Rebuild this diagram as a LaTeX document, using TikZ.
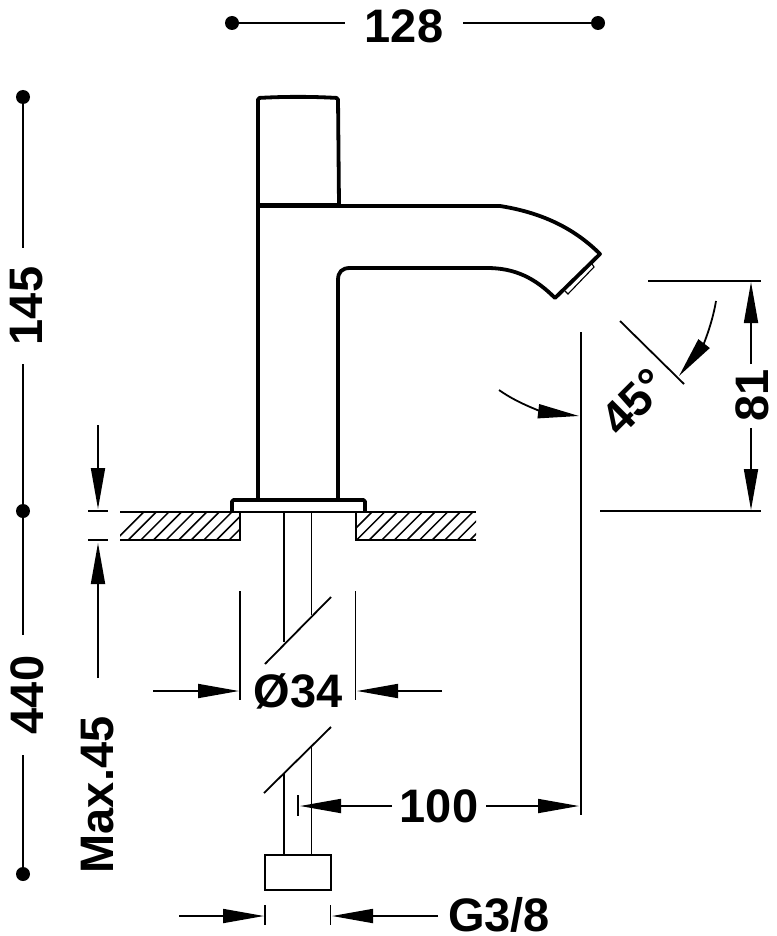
\documentclass[tikz,border=0pt]{standalone}
\usepackage{fontspec}
\setmainfont{Liberation Sans}
\usetikzlibrary{arrows.meta}
\tikzset{
  thinline/.style={line width=1.8pt},
  bodyline/.style={line width=3.8pt,line join=round},
  headtip/.style={-{Triangle[length=41pt,width=14pt]}},
  dimtext/.style={font=\fontsize{47}{47}\selectfont\bfseries,inner sep=0pt},
  dimdot/.style={circle,fill=black,inner sep=0pt,minimum size=14pt},
}
\begin{document}
\begin{tikzpicture}[x=1pt,y=-1pt]

        \useasboundingbox (0,0) rectangle (776,936);

        % tap body
        \draw[bodyline,rounded corners=1.5pt] (258,500) -- (258,98) .. controls (285,96.5) and (311,96.5) .. (338,98) -- (339,205);
        \draw[bodyline,line width=5pt] (258,205) -- (339,205);
        \draw[bodyline] (339,206) -- (500,206) .. controls (538,212) and (572,226) .. (600,254)
          -- (555,298) .. controls (535,278) and (515,268) .. (487,268)
          -- (350,268) .. controls (342,268) and (338,272) .. (338,280) -- (338,500);
        \draw[line width=1.1pt] (592,264) -- (594,267) -- (568,294) -- (565,291);

        % base plate and wall
        \draw[bodyline,rounded corners=1.5pt] (232,512) -- (232,500) -- (365,500) -- (365,512);
        \draw[thinline,line width=2.4pt] (120,512) -- (476,512);
        \draw[thinline] (120,540) -- (240,540) -- (240,512);
        \draw[thinline] (476,540) -- (356,540) -- (356,512);

        % hatching
        \begin{scope}
          \clip (120,512) rectangle (240,540);
          \foreach \x in {0,...,10}
            \draw[line width=1.5pt] (103.2+12.6*\x,552.5) -- (153.2+12.6*\x,502.5);
        \end{scope}
        \begin{scope}
          \clip (356,512) rectangle (476,540);
          \foreach \x in {0,...,10}
            \draw[line width=1.5pt] (331.5+12.6*\x,552.5) -- (381.5+12.6*\x,502.5);
        \end{scope}

        % pipes and connection nut
        \draw[thinline] (284,512) -- (284,642);
        \draw[thinline] (311.5,512) -- (311.5,615);
        \draw[thinline] (284,773) -- (284,855);
        \draw[thinline] (311.5,747) -- (311.5,855);
        \draw[thinline] (265,664) -- (331,597);
        \draw[thinline] (264,793) -- (331,727);
        \node[draw,thinline,inner sep=0pt,minimum width=66pt,minimum height=35pt] (nut) at (298,872.5) {};

        \begin{scope}[every node/.style={dimdot}]
          \node (topa)    at (232,23)  {};
          \node (topb)    at (598,23)  {};
          \node (lefta)   at (23,97)   {};
          \node (leftb)   at (23,511)  {};
          \node (leftc)   at (23,874)  {};
        \end{scope}

        \begin{scope}[every node/.style={dimtext}]
          \node (top)     at (404,26)  {128};
          \node[rotate=90] (tall)  at (27,306)  {145};
          \node[rotate=90] (full)  at (27,695)  {440};
          \node[rotate=90] (max)   at (98,795)  {Max.45};
          \node (dia)     at (298,691) {Ø34};
          \node (reach)   at (439,806) {100};
          \node (thread)  at (499,915) {G3/8};
          \node[rotate=90] (rise)  at (752,395) {81};
          \node[rotate=45] (angle) at (634,402) {45°};
        \end{scope}

        % free ends of the dimension lines
        \coordinate (topl)    at (345,23);
        \coordinate (topr)    at (463,23);
        \coordinate (talla)   at (23,248);
        \coordinate (tallb)   at (23,364);
        \coordinate (fulla)   at (23,635);
        \coordinate (fullb)   at (23,755);
        \coordinate (maxa)    at (98,425);
        \coordinate (maxb)    at (98,509);
        \coordinate (maxc)    at (98,678);
        \coordinate (maxd)    at (98,543);
        \coordinate (diaa)    at (153,691);
        \coordinate (diab)    at (239,691);
        \coordinate (diac)    at (442,691);
        \coordinate (diad)    at (357,691);
        \coordinate (reacha)  at (392,806);
        \coordinate (reachb)  at (300,806);
        \coordinate (reachc)  at (486,806);
        \coordinate (reachd)  at (579,806);
        \coordinate (threada) at (179,916);
        \coordinate (threadb) at (264,916);
        \coordinate (threadc) at (438,916);
        \coordinate (threadd) at (332,916);
        \coordinate (risea)   at (751,364);
        \coordinate (riseb)   at (751,282);
        \coordinate (risec)   at (751,428);
        \coordinate (rised)   at (751,510);

        \begin{scope}[every edge/.style={draw,thinline}]
          \path (topa)  edge (topl);
          \path (topr)  edge (topb);
          \path (lefta) edge (talla);
          \path (tallb) edge (leftb);
          \path (leftb) edge (fulla);
          \path (fullb) edge (leftc);
        \end{scope}

        \begin{scope}[every edge/.style={draw,thinline,headtip}]
          \path (maxa)    edge (maxb);
          \path (maxc)    edge (maxd);
          \path (diaa)    edge (diab);
          \path (diac)    edge (diad);
          \path (reacha)  edge (reachb);
          \path (reachc)  edge (reachd);
          \path (threada) edge (threadb);
          \path (threadc) edge (threadd);
          \path (risea)   edge (riseb);
          \path (risec)   edge (rised);
        \end{scope}

        % extension lines
        \draw[thinline] (88,511) -- (108,511);
        \draw[thinline] (88,540) -- (108,540);
        \draw[thinline] (240,591) -- (240,700);
        \draw[thinline] (355.5,591) -- (355.5,700);
        \draw[thinline] (298,795) -- (298,816);
        \draw[thinline] (581,332) -- (581,815);
        \draw[thinline] (265,905) -- (265,925);
        \draw[thinline] (330.5,905) -- (330.5,925);
        \draw[thinline] (648,281) -- (761,281);
        \draw[thinline] (600,511) -- (761,511);
        \draw[thinline] (620,321) -- (684,384);

        % angle arrows
        \coordinate (arca) at (499,390);
        \coordinate (arcb) at (579,416);
        \coordinate (arcc) at (716,301);
        \coordinate (arcd) at (679,376);
        \draw[thinline,headtip] (arca) .. controls (520,405) and (545,412) .. (arcb);
        \draw[thinline,headtip] (arcc) .. controls (712,325) and (703,345) .. (arcd);

      \end{tikzpicture}
\end{document}
